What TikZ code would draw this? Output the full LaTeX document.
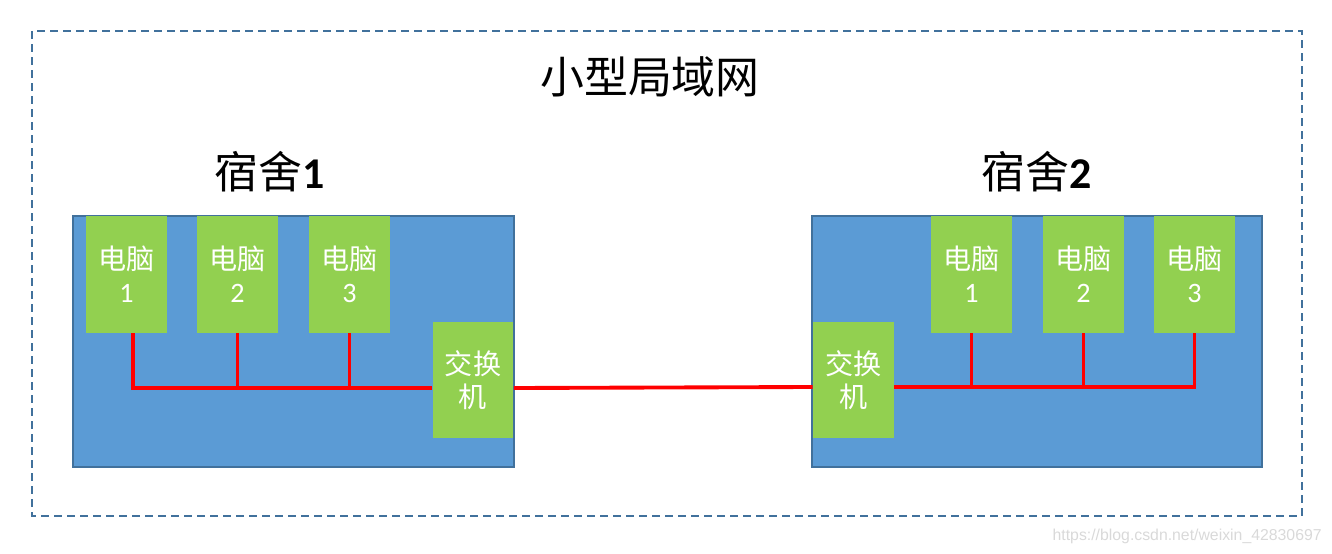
\documentclass[tikz,border=0pt]{standalone}
\usepackage{fontspec}
\newfontfamily\cjk{Noto Sans CJK SC}
\newfontfamily\digits{Carlito}
\setmainfont{Liberation Sans}
\definecolor{roomblue}{HTML}{5B9BD5}
\definecolor{roomedge}{HTML}{41719C}
\definecolor{boxgreen}{HTML}{92D050}
\definecolor{wirered}{HTML}{FF0000}
\definecolor{markgray}{HTML}{D9D9D9}
\tikzset{
    dorm/.style={draw=roomedge, fill=roomblue, line width=1.2pt, inner sep=0pt,
        minimum width=8.82cm, minimum height=5.02cm},
    pcbox/.style={fill=boxgreen, text=white, inner sep=0pt, align=center,
        minimum width=1.62cm, minimum height=2.34cm,
        font=\cjk\fontsize{16}{18.7}\selectfont},
    swbox/.style={pcbox},
    wire/.style={draw=wirered, line width=2.2pt},
    heading/.style={font=\cjk\fontsize{25}{28}\selectfont, inner sep=0pt}
}
\begin{document}
\begin{tikzpicture}[x=0.02cm, y=-0.02cm]
    \useasboundingbox (0,0) rectangle (1332,554);

    % outer dashed frame
    \draw[roomedge, line width=1.1pt, dash pattern=on 4.6pt off 2.8pt]
        (32,31) rectangle (1302,516);

    % titles
    \node[heading] (title) at (650,77) {小型局域网};
    \node[heading] (nameL) at (270,172) {宿舍{\digits\bfseries 1}};
    \node[heading] (nameR) at (1037,172) {宿舍{\digits\bfseries 2}};

    % --- dorm 1 ---
    \node[dorm] (dormL) at (293.5,341.5) {};
    \node[pcbox] (pcL1) at (126.5,274.5) {电脑\\{\digits 1}};
    \node[pcbox] (pcL2) at (237.5,274.5) {电脑\\{\digits 2}};
    \node[pcbox] (pcL3) at (349.5,274.5) {电脑\\{\digits 3}};
    \node[swbox] (swL) at (473,380) {交换\\机};

    % --- dorm 2 ---
    \node[dorm, minimum width=9cm] (dormR) at (1037,341.5) {};
    \node[swbox] (swR) at (853.5,380) {交换\\机};
    \node[pcbox] (pcR1) at (971.5,274.5) {电脑\\{\digits 1}};
    \node[pcbox] (pcR2) at (1083.5,274.5) {电脑\\{\digits 2}};
    \node[pcbox] (pcR3) at (1194.5,274.5) {电脑\\{\digits 3}};

    % wiring
    \coordinate (busL) at (133,388);
    \coordinate (busR) at (1194.5,387);
    \draw[wire] (pcL1.south -| busL) -- (busL) -- (busL -| swL.west);
    \draw[wire] (pcL2.south) -- (pcL2.south |- busL);
    \draw[wire] (pcL3.south) -- (pcL3.south |- busL);
    \draw[wire] (pcR3.south) -- (busR) -- (busR -| swR.east);
    \draw[wire] (pcR1.south) -- (pcR1.south |- busR);
    \draw[wire] (pcR2.south) -- (pcR2.south |- busR);
    \draw[wire] (busL -| swL.east) -- (busR -| swR.west);

    % watermark
    \node[text=markgray, font=\fontsize{9}{11}\selectfont, anchor=east, inner sep=0pt]
        (mark) at (1322,536) {https://blog.csdn.net/weixin\_42830697};
\end{tikzpicture}
\end{document}
